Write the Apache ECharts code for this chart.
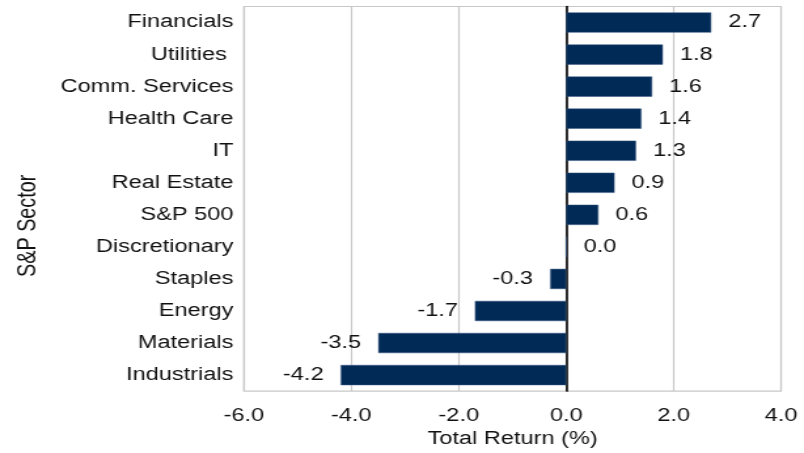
<!DOCTYPE html>
<html><head><meta charset="utf-8">
<script src="https://cdn.jsdelivr.net/npm/echarts@6/dist/echarts.min.js"></script>
<style>html,body{margin:0;padding:0;background:#fff;overflow:hidden}
#wrap{width:804px;height:453px;overflow:hidden}
#c{width:614px;height:453px;transform:scaleX(1.3094);transform-origin:0 0}</style>
</head><body><div id="wrap"><div id="c"></div></div>
<script>
const categories = ["Financials","Utilities ","Comm. Services","Health Care","IT","Real Estate","S&P 500","Discretionary","Staples","Energy","Materials","Industrials"];
const values = [2.7,1.8,1.6,1.4,1.3,0.9,0.6,0.0,-0.3,-1.7,-3.5,-4.2];
const xTicks = {min:-6, max:4, interval:2};
const font = 'Arial, "Liberation Sans", sans-serif';
const chart = echarts.init(document.getElementById('c'), null, {renderer:'canvas', width:614, height:453});
const data = values.slice().reverse().map(v=>({value:v, label:{position: v<0?'left':'right'}}));
chart.setOption({
  animation:false,
  grid:{left:186.3, right:17.5, top:6.5, bottom:58.5, show:true, borderColor:'#c8c8c8', borderWidth:1.2},
  xAxis:{type:'value', min:xTicks.min, max:xTicks.max, interval:xTicks.interval,
    name:'Total Return (%)', nameLocation:'middle', nameGap:38,
    nameTextStyle:{fontFamily:font, fontSize:18, color:'#111'},
    axisLabel:{formatter:v=>v.toFixed(1), fontFamily:font, fontSize:18, color:'#111', margin:16},
    axisLine:{show:false}, axisTick:{show:false},
    splitLine:{show:true, lineStyle:{color:'#c8c8c8', width:1.2}}},
  yAxis:{type:'category', data:categories.slice().reverse(),
    name:'S&P Sector', nameLocation:'middle', nameGap:154.5, nameRotate:90,
    nameTextStyle:{fontFamily:font, fontSize:19.8, color:'#111', padding:[0,54,0,0]},
    axisLabel:{fontFamily:font, fontSize:18, color:'#111', margin:8},
    axisLine:{show:true, onZero:true, lineStyle:{color:'#000', width:1.6}},
    axisTick:{show:false}, splitLine:{show:false}},
  series:[{type:'bar', data:data, barWidth:'63%',
    itemStyle:{color:'#022a56', borderColor:'#3b5a84', borderWidth:0.5},
    label:{show:true, distance:13, fontFamily:font, fontSize:18, color:'#111',
      formatter:p=>p.value.toFixed(1)}}]
});
</script></body></html>
